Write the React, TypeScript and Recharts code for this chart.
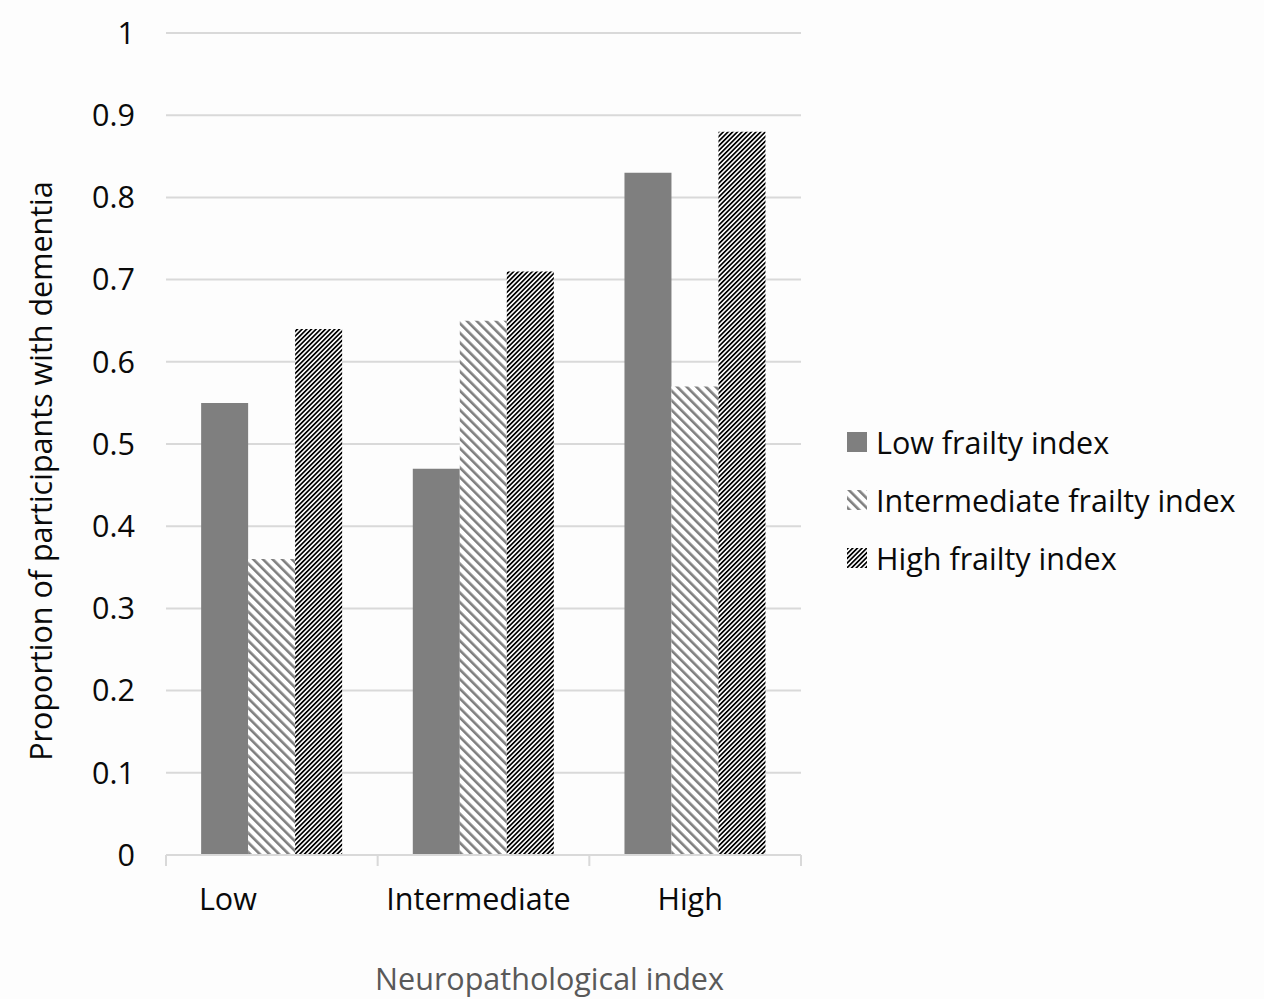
import React from "react";
import { BarChart, Bar, XAxis, YAxis, CartesianGrid, Legend, Label } from "recharts";

// Neuropathological index groups on the x axis
const categories = ["Low", "Intermediate", "High"];
// Proportion with dementia by frailty index group
const lowFrailty = [0.55, 0.47, 0.83];
const intermediateFrailty = [0.36, 0.65, 0.57];
const highFrailty = [0.64, 0.71, 0.88];
const yTicks = [0, 0.1, 0.2, 0.3, 0.4, 0.5, 0.6, 0.7, 0.8, 0.9, 1];

const seriesNames = ["Low frailty index", "Intermediate frailty index", "High frailty index"];

const data = categories.map((name, i) => ({
  name,
  low: lowFrailty[i],
  intermediate: intermediateFrailty[i],
  high: highFrailty[i],
}));

const W = 1264;
const H = 999;
const PLOT_LEFT = 166;
const PLOT_RIGHT = 801;
const PLOT_TOP = 33;
const PLOT_BOTTOM = 855;
const BAND = (PLOT_RIGHT - PLOT_LEFT) / categories.length;
const LABEL_SHIFT = [-44, -5, -5];
const FONT = "'Open Sans', sans-serif";
const FS = 30.5;
const INK = "#0a0a0a";
const GRID = "#d9d9d9";
const SOLID = "#7f7f7f";

const CategoryTick = (props: any) => {
  const { x, payload, index } = props;
  const half = BAND / 2;
  return (
    <g>
      <line x1={x - half} x2={x - half} y1={PLOT_BOTTOM} y2={PLOT_BOTTOM + 11} stroke={GRID} strokeWidth={2} />
      {index === categories.length - 1 && (
        <line x1={x + half} x2={x + half} y1={PLOT_BOTTOM} y2={PLOT_BOTTOM + 11} stroke={GRID} strokeWidth={2} />
      )}
      <text
        x={x + (LABEL_SHIFT[index] ?? 0)}
        y={910}
        textAnchor="middle"
        fontFamily={FONT}
        fontSize={FS}
        fill={INK}
      >
        {payload.value}
      </text>
    </g>
  );
};

const Swatch = ({ kind }: { kind: number }) => {
  const fill = kind === 0 ? SOLID : kind === 1 ? "url(#stripeMid)" : "url(#stripeHigh)";
  return (
    <svg width={20} height={20} style={{ display: "block" }}>
      <rect x={0} y={0} width={20} height={20} fill={fill} />
    </svg>
  );
};

const LegendContent = () => (
  <div style={{ fontFamily: FONT, fontSize: FS, color: INK }}>
    {seriesNames.map((n, i) => (
      <div key={n} style={{ display: "flex", alignItems: "center", height: 58, whiteSpace: "nowrap" }}>
        <Swatch kind={i} />
        <span style={{ marginLeft: 9 }}>{n}</span>
      </div>
    ))}
  </div>
);

export default function App() {
  return (
    <div style={{ position: "absolute", left: 0, top: 0, width: W, height: H, background: "#fdfdfd" }}>
      <BarChart
        width={W}
        height={H}
        data={data}
        margin={{ top: PLOT_TOP, right: W - PLOT_RIGHT, bottom: 0, left: 0 }}
        barCategoryGap="16.6%"
        barGap={0}
      >
        <defs>
          <pattern id="stripeMid" width={6.8} height={6.8} patternUnits="userSpaceOnUse" patternTransform="rotate(-45)">
            <rect width={6.8} height={6.8} fill="#ffffff" />
            <rect width={2.6} height={6.8} fill={SOLID} />
          </pattern>
          <pattern id="stripeHigh" width={3.3} height={3.3} patternUnits="userSpaceOnUse" patternTransform="rotate(45)">
            <rect width={3.3} height={3.3} fill="#ffffff" />
            <rect width={1.7} height={3.3} fill="#000000" />
          </pattern>
        </defs>
        <CartesianGrid vertical={false} stroke={GRID} strokeWidth={2} />
        <XAxis
          dataKey="name"
          height={H - PLOT_BOTTOM}
          axisLine={{ stroke: GRID, strokeWidth: 2 }}
          tickLine={false}
          tick={<CategoryTick />}
          interval={0}
        >
          <Label
            value="Neuropathological index"
            position="insideBottom"
            offset={9}
            dx={66}
            style={{ fontFamily: FONT, fontSize: FS, fill: "#595959" }}
          />
        </XAxis>
        <YAxis
          width={PLOT_LEFT}
          domain={[0, 1]}
          ticks={yTicks}
          axisLine={false}
          tickLine={false}
          tickSize={0}
          tickMargin={31}
          tick={{ fontFamily: FONT, fontSize: FS, fill: INK }}
        >
          <Label
            value="Proportion of participants with dementia"
            angle={-90}
            position="center"
            dx={-42}
            dy={27}
            style={{ fontFamily: FONT, fontSize: FS, fill: INK, textAnchor: "middle" }}
          />
        </YAxis>
        <Legend
          layout="vertical"
          align="center"
          verticalAlign="middle"
          content={<LegendContent />}
          wrapperStyle={{ left: 847, top: 413, width: 417 }}
        />
        <Bar dataKey="low" name={seriesNames[0]} fill={SOLID} isAnimationActive={false} />
        <Bar dataKey="intermediate" name={seriesNames[1]} fill="url(#stripeMid)" isAnimationActive={false} />
        <Bar dataKey="high" name={seriesNames[2]} fill="url(#stripeHigh)" isAnimationActive={false} />
      </BarChart>
    </div>
  );
}
